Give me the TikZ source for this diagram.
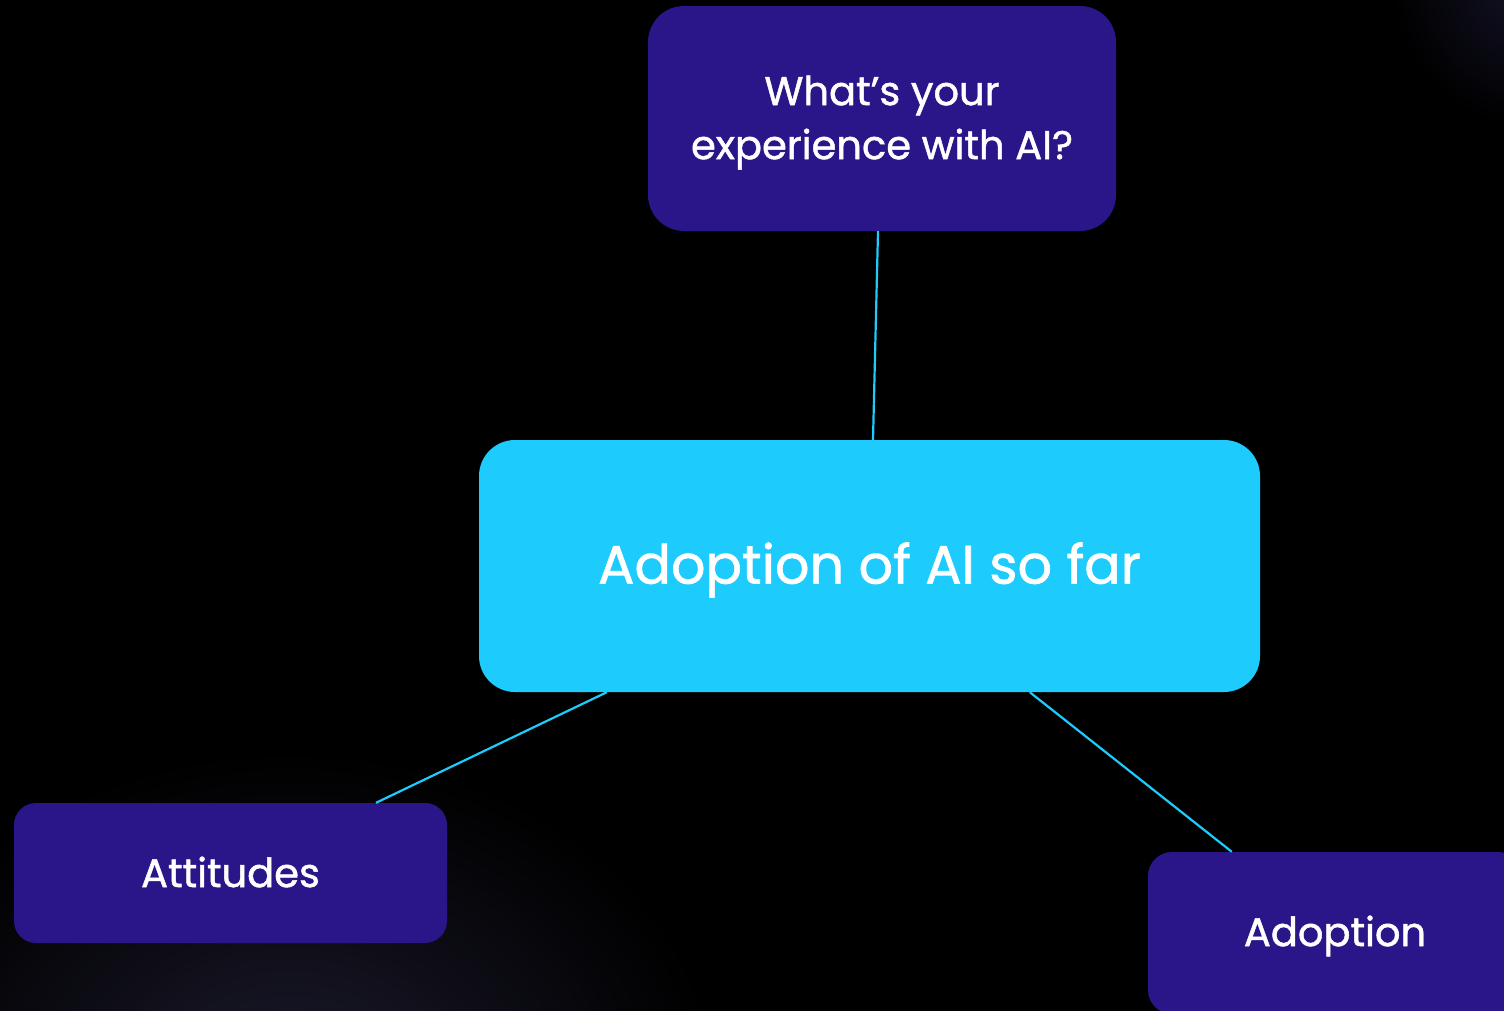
\documentclass[tikz,border=0pt]{standalone}
\usepackage{fontspec}
\setmainfont{Poppins}[FakeBold=1.2]
\usetikzlibrary{calc}
\definecolor{bgpurple}{HTML}{2B1689}
\definecolor{cyanbox}{HTML}{1DCBFD}
\definecolor{glow}{HTML}{1B1A2C}
\definecolor{glowtr}{HTML}{15142A}
\begin{document}
\begin{tikzpicture}[x=1pt,y=-1pt,
  boxp/.style={draw=none,fill=bgpurple,text=white,align=center,inner sep=0pt},
  boxc/.style={draw=none,fill=cyanbox,text=white,align=center,inner sep=0pt,rounded corners=36pt},
  conn/.style={draw=cyanbox,line width=2.2pt}]
\useasboundingbox (0,0) rectangle (1504,1010);
\fill[black] (-10,-10) rectangle (1514,1020);
\begin{scope}
\clip (-10,-10) rectangle (1514,1020);
\shade[inner color=glow,outer color=black] (290,1090) ellipse (430 and 340);
\shade[inner color=glowtr,outer color=black] (1540,-20) circle (150);
\end{scope}
\node[boxp,rounded corners=36pt,minimum width=468pt,minimum height=225pt,font=\fontsize{40}{54}\selectfont] (top) at (882,118.5) {\raisebox{-4pt}[\height][\depth]{\parbox{460pt}{\centering What’s your\\experience with AI?}}};
\node[boxc,minimum width=781pt,minimum height=252pt,font=\fontsize{54}{60}\selectfont] (ctr) at (869.5,566) {\raisebox{-4pt}[\height][\depth]{Adoption of AI so far}};
\node[boxp,rounded corners=22pt,minimum width=433pt,minimum height=140pt,font=\fontsize{40}{48}\selectfont] (att) at (230.5,873) {\raisebox{1pt}[\height][\depth]{Attitudes}};
\node[boxp,rounded corners=24pt,minimum width=374pt,minimum height=162pt,font=\fontsize{40}{48}\selectfont] (ado) at (1335,933) {\raisebox{-3pt}[\height][\depth]{Adoption}};
\draw[conn] ([xshift=-4pt]top.south) -- ([xshift=3.5pt]ctr.north);
\draw[conn] ([xshift=128pt]ctr.south west) -- ([xshift=145.5pt]att.north);
\draw[conn] ([xshift=551pt]ctr.south west) -- ([xshift=84pt]ado.north west);
\end{tikzpicture}
\end{document}
